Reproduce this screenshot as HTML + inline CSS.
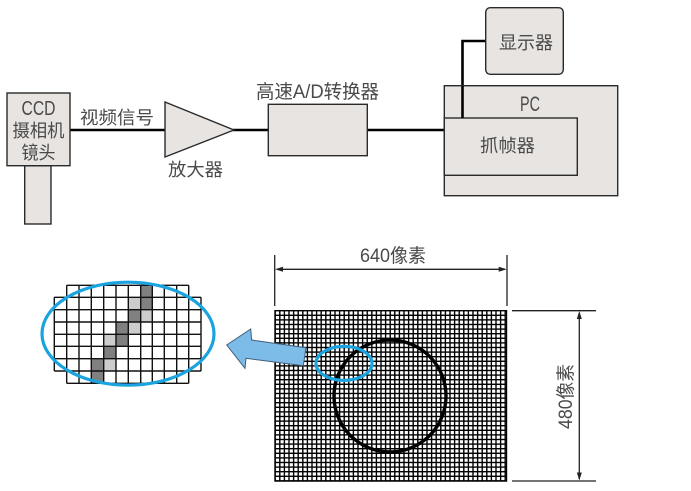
<!DOCTYPE html>
<html><head><meta charset="utf-8"><style>
html,body{margin:0;padding:0;background:#fff}
svg{display:block}
text{font-family:"Liberation Sans","Noto Sans CJK SC",sans-serif;fill:#4a4a4a;font-size:18px}
</style></head><body>
<svg width="691" height="491" viewBox="0 0 691 491" xmlns="http://www.w3.org/2000/svg">
<defs>
<pattern id="g" x="274.5" y="310" width="4.6" height="4.6" patternUnits="userSpaceOnUse">
<path d="M0.7 0V4.6M0 0.7H4.6" stroke="#000" stroke-width="1.4" fill="none"/>
</pattern>
</defs>
<g stroke="#000" stroke-width="2.6" fill="none">
<path d="M70 130H165M233 130H268M367 130H445M462.5 118V41H486"/>
</g>
<g fill="#e8e4e1" stroke="#2a2a2a" stroke-width="1.4">
<rect x="24.7" y="165.7" width="26.3" height="58.3"/>
<rect x="7" y="93" width="63" height="72.7"/>
<path d="M165 102L234 130L165 157Z"/>
<rect x="268.3" y="104.3" width="99" height="51.4"/>
<rect x="485.7" y="7.7" width="77.6" height="66.6" rx="4.5"/>
<rect x="444.3" y="85.7" width="173.4" height="110"/>
<rect x="444.3" y="118" width="133" height="57.3"/>
</g>
<path d="M462.5 118V86" stroke="#000" stroke-width="2.6"/>

<text x="38.5" y="115" text-anchor="middle" font-size="20" style="font-size:20px" textLength="34" lengthAdjust="spacingAndGlyphs">CCD</text>
<text x="38.5" y="137" text-anchor="middle" textLength="52" lengthAdjust="spacingAndGlyphs">摄相机</text>
<text x="38.5" y="159" text-anchor="middle" textLength="34" lengthAdjust="spacingAndGlyphs">镜头</text>
<text x="80" y="124" textLength="74" lengthAdjust="spacingAndGlyphs">视频信号</text>
<text x="168" y="176" textLength="55" lengthAdjust="spacingAndGlyphs">放大器</text>
<text x="256" y="98" textLength="123" lengthAdjust="spacingAndGlyphs" style="font-size:19px">高速A/D转换器</text>
<text x="499" y="49" textLength="54" lengthAdjust="spacingAndGlyphs">显示器</text>
<text x="520" y="111" textLength="20" lengthAdjust="spacingAndGlyphs" style="font-size:21px">PC</text>
<text x="480" y="152" textLength="55" lengthAdjust="spacingAndGlyphs">抓帧器</text>
<text x="360" y="262" textLength="66" lengthAdjust="spacingAndGlyphs" style="font-size:19px">640像素</text>
<text transform="translate(572 429) rotate(-90)" textLength="65" lengthAdjust="spacingAndGlyphs" style="font-size:19px">480像素</text>

<!-- dimension lines -->
<g stroke="#222" stroke-width="1.3" fill="none">
<path d="M274.7 255V306M507 255V306M277 269.3H505"/>
<path d="M512 310.7H596M512 481H596M579.3 313V479"/>
</g>
<g fill="#222">
<path d="M275 269.3L283 266.8V271.8Z"/>
<path d="M506.7 269.3L498.7 266.8V271.8Z"/>
<path d="M579.3 311L576.8 319H581.8Z"/>
<path d="M579.3 480.5L576.8 472.5H581.8Z"/>
</g>

<!-- pixel grid -->
<rect x="274.5" y="310" width="232.5" height="171.5" fill="url(#g)"/>
<path d="M275 310V481.5M506.5 310V481.5M274.5 481H507" stroke="#000" stroke-width="1.4" fill="none"/>
<circle cx="390" cy="396" r="56" fill="none" stroke="#000" stroke-width="3.4"/>

<!-- zoomed grid -->
<g fill="#fff" stroke="none"><rect x="66.7" y="285.3" width="122" height="98"/><rect x="54.3" y="297.3" width="146.7" height="74"/></g>
<g fill="#808080">
<rect x="140.7" y="285.3" width="11.6" height="24.4"/>
<rect x="128.3" y="309.7" width="12.4" height="12.3"/>
<rect x="116" y="322" width="12.3" height="24.3"/>
<rect x="103.7" y="346.3" width="12.3" height="12.4"/>
<rect x="91.3" y="358.7" width="12.4" height="24.6"/>
</g>
<g fill="#cdcdcd">
<rect x="128.3" y="297.3" width="12.4" height="12.4"/>
<rect x="140.7" y="309.7" width="11.6" height="12.3"/>
<rect x="128.3" y="322" width="12.4" height="12.3"/>
<rect x="103.7" y="334.3" width="12.3" height="12"/>
<rect x="103.7" y="358.7" width="12.3" height="12.3"/>
</g>
<g stroke="#111" stroke-width="1.4" fill="none">
<path d="M66.7 285.3H188.7M54.3 297.3H201M54.3 309.7H201M54.3 322H201M54.3 334.3H201M54.3 346.3H201M54.3 358.7H201M54.3 371H201M66.7 383.3H188.7"/>
<path d="M54.3 297.3V371M66.7 285.3V383.3M79 285.3V383.3M91.3 285.3V383.3M103.7 285.3V383.3M116 285.3V383.3M128.3 285.3V383.3M140.7 285.3V383.3M152.3 285.3V383.3M164.3 285.3V383.3M176.7 285.3V383.3M188.7 285.3V383.3M201 297.3V371"/>
</g>
<ellipse cx="128" cy="333.7" rx="86" ry="51.5" fill="none" stroke="#1ba3e0" stroke-width="3.2"/>
<ellipse cx="344" cy="363.4" rx="28" ry="17" fill="none" stroke="#1ba3e0" stroke-width="3.2"/>

<!-- arrow -->
<path d="M226.7 345L250.7 329L251.7 340L306 347.7L303.3 365.7L246 358.3L245 368.3Z" fill="#7dbbe8" stroke="#3f5f78" stroke-width="1"/>
</svg>
</body></html>
